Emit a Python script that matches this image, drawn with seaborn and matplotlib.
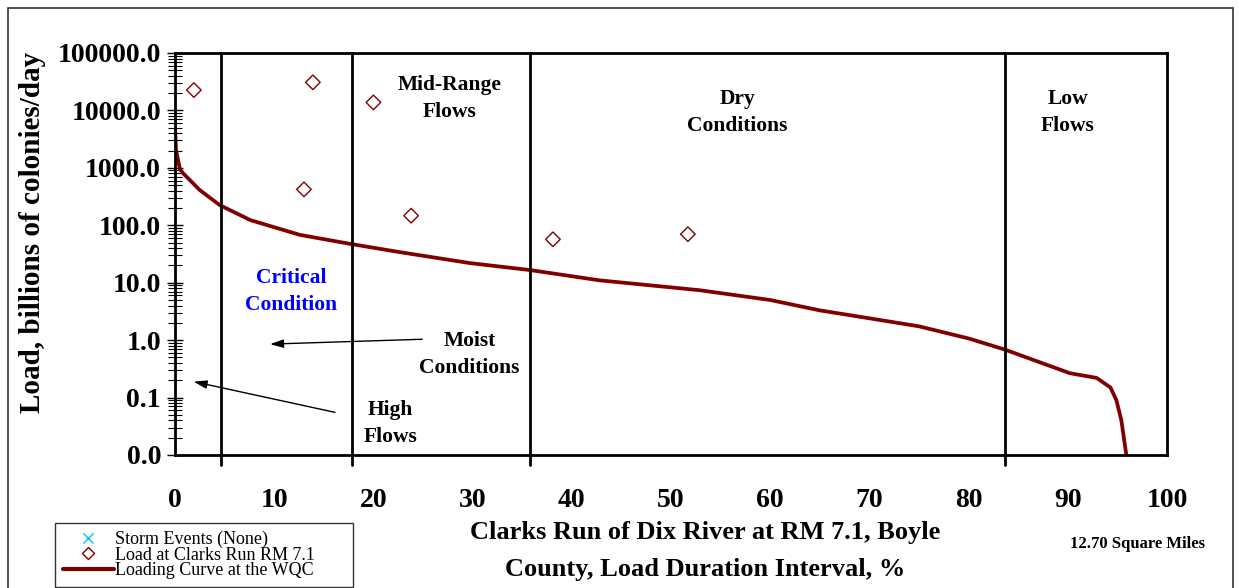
import numpy as np
import pandas as pd
import matplotlib
matplotlib.use("Agg")
import matplotlib.pyplot as plt
import seaborn as sns
from matplotlib.lines import Line2D
from matplotlib.patches import Rectangle
from matplotlib.ticker import FixedLocator, LogLocator, FuncFormatter

# loading curve (duration interval %, load)
curve_x = [0.0, 0.1, 0.5, 0.8, 2.5, 4.5, 7.6, 12.6, 17.8, 22.7, 29.7, 35.8, 42.8,
           52.9, 60.0, 65.0, 70.0, 75.0, 80.0, 83.6, 90.2, 92.9, 94.3, 94.9, 95.4, 95.9, 96.1]
curve_y = [5100, 2040, 950, 810, 410, 225, 123, 68, 47, 34, 22, 16.6, 11,
           7.4, 5.0, 3.3, 2.4, 1.74, 1.07, 0.69, 0.266, 0.22, 0.15, 0.09, 0.04, 0.01, 0.006]

# observed loads at Clarks Run RM 7.1
obs_x = [1.9, 13.9, 20.0, 13.0, 23.8, 38.1, 51.7]
obs_y = [22600, 30900, 13800, 422, 147, 57, 70]

# flow regime boundaries
zone_edges = [4.6, 17.8, 35.8, 83.7]

curve = pd.DataFrame({"pct": curve_x, "load": curve_y})
obs = pd.DataFrame({"pct": obs_x, "load": obs_y})

sns.set_style("white")
plt.rcParams["font.family"] = ["Liberation Serif", "DejaVu Serif"]
plt.rcParams.update({"text.color": "black", "axes.labelcolor": "black",
                     "xtick.color": "black", "ytick.color": "black"})

red = "#800000"
fig = plt.figure(figsize=(12.39, 5.88), dpi=100)
ax = fig.add_axes([175 / 1239, 1 - 455 / 588, 992 / 1239, 402 / 588])

sns.lineplot(data=curve, x="pct", y="load", ax=ax, color=red, linewidth=2.7,
             legend=False, sort=False)
sns.scatterplot(data=obs, x="pct", y="load", ax=ax, marker="D", s=55,
                facecolor="none", edgecolor=red, linewidth=1.0, legend=False)

ax.set_yscale("log")
ax.set_xlim(0, 100)
ax.set_ylim(0.01, 100000)

for xv in zone_edges:
    ax.axvline(xv, ymin=-0.025, ymax=1, color="black", linewidth=2, clip_on=False)

ax.set_xticks(range(0, 101, 10))
ax.yaxis.set_major_locator(FixedLocator([10.0 ** k for k in range(-2, 6)]))
ax.yaxis.set_minor_locator(LogLocator(base=10, subs=np.arange(2, 10)))
ax.yaxis.set_major_formatter(FuncFormatter(lambda v, p: f"{v:.1f}"))
ax.yaxis.set_minor_formatter(FuncFormatter(lambda v, p: ""))

for s in ax.spines.values():
    s.set_color("black")
    s.set_linewidth(2)

ax.tick_params(axis="x", which="major", direction="out", length=8, width=1,
               labelsize=20, pad=16)
ax.tick_params(axis="y", which="major", direction="inout", length=12, width=1,
               labelsize=20, pad=4, left=True)
ax.tick_params(axis="y", which="minor", direction="inout", length=10, width=0.8, left=True)
for lbl in ax.get_xticklabels() + ax.get_yticklabels():
    lbl.set_fontweight("bold")

ax.set_xlabel("Clarks Run of Dix River at RM 7.1, Boyle\nCounty, Load Duration Interval, %",
              fontsize=19, fontweight="bold", linespacing=1.75)
ax.xaxis.set_label_coords((705 - 175) / 992, -0.165)
ax.set_ylabel("Load, billions of colonies/day", fontsize=21, fontweight="bold")
ax.yaxis.set_label_coords(-(175 - 46) / 992, (455 - 232) / 402)

# regime labels
lab = dict(ha="center", va="center", fontsize=15.5, fontweight="bold", linespacing=1.45)
ax.text(27.7, 10 ** 4.21, "Mid-Range\nFlows", **lab)
ax.text(56.7, 10 ** 3.97, "Dry\nConditions", **lab)
ax.text(90.0, 10 ** 3.97, "Low\nFlows", **lab)
ax.text(11.7, 10 ** 0.85, "Critical\nCondition", color="blue", **lab)
ax.text(29.7, 10 ** -0.25, "Moist\nConditions", **lab)
ax.text(21.7, 10 ** -1.45, "High\nFlows", **lab)

arrow = dict(arrowstyle="-|>,head_length=0.8,head_width=0.25", color="black",
             linewidth=1.0, mutation_scale=10)
ax.annotate("", xy=(1.6, 0.194), xytext=(16.4, 0.054), arrowprops=arrow)
ax.annotate("", xy=(9.3, 0.85), xytext=(25.2, 1.04), arrowprops=arrow)

fig.text(1137 / 1239, 1 - 544 / 588, "12.70 Square Miles", ha="center", va="center",
         fontsize=12, fontweight="bold")

handles = [
    Line2D([], [], linestyle="none", marker="x", color="#00bfff", markersize=7),
    Line2D([], [], linestyle="none", marker="D", markerfacecolor="none",
           markeredgecolor=red, markersize=6),
    Line2D([], [], color=red, linewidth=3),
]
labels = ["Storm Events (None)", "Load at Clarks Run RM 7.1",
          "Loading Curve at the WQC" + "\u00a0" * 7]
leg = fig.legend(handles, labels, loc="upper left",
                 bbox_to_anchor=(55 / 1239, 1 - 523 / 588), fontsize=13, frameon=True,
                 fancybox=False, borderpad=0.45, labelspacing=-0.1, handlelength=2.8,
                 handletextpad=0.05, borderaxespad=0.0)
leg.get_frame().set_edgecolor("black")
leg.get_frame().set_linewidth(1)

fig.patches.append(Rectangle((8 / 1239, -0.01), 1225 / 1239, 1 - 8 / 588 + 0.01,
                             transform=fig.transFigure, fill=False,
                             edgecolor="#333333", linewidth=1.2))

fig.savefig("out.png", dpi=100)
